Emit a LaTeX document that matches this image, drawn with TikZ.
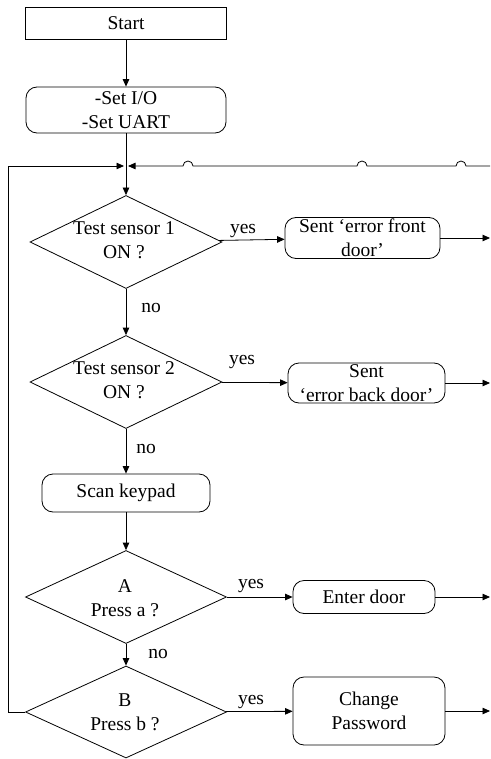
\documentclass[tikz,border=0pt]{standalone}
\usepackage{fontspec}
\setmainfont{Liberation Serif}
\usetikzlibrary{shapes.geometric,arrows.meta}
\tikzset{
  box/.style={draw,line width=0.8pt,inner sep=0pt},
  proc/.style={box,rounded corners=11pt},
  decision/.style={draw,line width=0.8pt,diamond,inner sep=0pt},
  arr/.style={line width=0.8pt,-{Triangle[length=7.5pt,width=6.5pt]}},
  ln/.style={line width=0.8pt},
  txt/.style={align=center,font=\fontsize{19.5}{24}\selectfont}
}
\begin{document}
\begin{tikzpicture}[x=1pt,y=-1pt]
\useasboundingbox (0,0) rectangle (490,759);

\node[box,minimum width=201pt,minimum height=32pt] (start) at (126,23) {};
\node[txt] at (start) {Start};
\node[proc,minimum width=200pt,minimum height=46pt] (init) at (126,110) {};
\node[txt] at (init) {-Set I/O\\-Set UART};

\node[decision,minimum width=192pt,minimum height=93pt] (s1) at (126,242) {};
\node[txt] at (124,240) {Test sensor 1\\ON ?};
\node[proc,minimum width=155pt,minimum height=41pt] (e1) at (362.5,238) {};
\node[txt] at (e1) {Sent `error front\\door'};

\node[decision,minimum width=192pt,minimum height=93pt] (s2) at (126,382) {};
\node[txt] at (124,380) {Test sensor 2\\ON ?};
\node[proc,minimum width=157pt,minimum height=40pt] (e2) at (366.5,383) {};
\node[txt] at (e2) {Sent\\`error back door'};

\node[proc,minimum width=168pt,minimum height=38pt] (scan) at (126,493) {};
\node[txt] at (scan) {Scan keypad};

\node[decision,minimum width=201pt,minimum height=93pt] (da) at (126,597) {};
\node[txt] at (125,598) {A\\Press a ?};
\node[proc,minimum width=142pt,minimum height=33pt] (door) at (364,597) {};
\node[txt] at (door) {Enter door};

\node[decision,minimum width=201pt,minimum height=92pt] (db) at (126,712) {};
\node[txt] at (125,712) {B\\Press b ?};
\node[proc,minimum width=152pt,minimum height=68pt] (pw) at (369,711) {};
\node[txt] at (pw) {Change\\Password};

% labels
\node[txt] at (243,231) {yes};
\node[txt] at (242,362) {yes};
\node[txt] at (251,586) {yes};
\node[txt] at (251,702) {yes};
\node[txt] at (151,308) {no};
\node[txt] at (146,449) {no};
\node[txt] at (158,654) {no};

% junction and loop
\coordinate (jn) at (126,166);
\coordinate (lp1) at (8,712);
\coordinate (lp2) at (8,166);
\coordinate (rt) at (490,166);
\coordinate (o1) at (490,238);
\coordinate (o2) at (490,383);
\coordinate (o3) at (490,597);
\coordinate (o4) at (490,711);

\draw[arr] (start) -- (init);
\draw[ln] (init) -- (jn);
\draw[arr] (jn) -- (s1.north);
\draw[arr] (s1) -- (e1);
\draw[arr] (e1) -- (o1);
\draw[arr] (s1) -- (s2);
\draw[arr] (s2) -- (e2);
\draw[arr] (e2) -- (o2);
\draw[arr] (s2) -- (scan);
\draw[arr] (scan) -- (da);
\draw[arr] (da) -- (door);
\draw[arr] (door) -- (o3);
\draw[arr] (da) -- (db);
\draw[arr] (db) -- (pw);
\draw[arr] (pw) -- (o4);
\draw[arr,shorten >=2pt] (db.west) -- (lp1) -- (lp2) -- (jn);
\draw[arr,shorten >=2pt] (rt) -- (466,166) arc (0:180:5pt) -- (367,166) arc (0:180:5pt)
  -- (193,166) arc (0:180:5pt) -- (jn);
\end{tikzpicture}
\end{document}
